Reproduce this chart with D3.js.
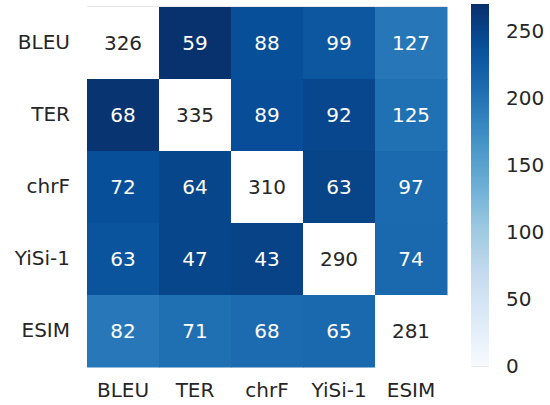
<!DOCTYPE html>
<html><head><meta charset="utf-8">
<script src="https://cdn.jsdelivr.net/npm/d3@7"></script>
<style>body{margin:0;background:#fff}svg{display:block}text{font-family:"DejaVu Sans",sans-serif}</style>
</head><body><svg id="c" width="550" height="405"></svg>
<script>
const metrics = ["BLEU", "TER", "chrF", "YiSi-1", "ESIM"];
// annotated numbers
const annotations = [
  [326, 59, 88, 99, 127],
  [68, 335, 89, 92, 125],
  [72, 64, 310, 63, 97],
  [63, 47, 43, 290, 74],
  [82, 71, 68, 65, 281]
];
// shading values estimated from the colours (diagonal left blank/white)
const shade = [
  [null, 268, 238, 230, 196],
  [266, null, 240, 246, 204],
  [238, 248, null, 250, 210],
  [233, 248, 251, null, 212],
  [195, 205, 209, 212, null]
];
const colorTicks = [0, 50, 100, 150, 200, 250];
const vmin = 0, vmax = 270;

const blues = ["#f7fbff","#deebf7","#c6dbef","#9ecae1","#6baed6","#4292c6","#2171b5","#08519c","#08306b"];
const color = d3.scaleLinear()
  .domain(blues.map((_, i) => vmin + (vmax - vmin) * i / (blues.length - 1)))
  .range(blues).clamp(true);

const svg = d3.select("#c");
const mLeft = 87, mTop = 7, size = 360;
const x = d3.scaleBand().domain(metrics).range([mLeft, mLeft + size]);
const y = d3.scaleBand().domain(metrics).range([mTop, mTop + size]);

const cells = [];
metrics.forEach((r, i) => metrics.forEach((c, j) => cells.push({r, c, v: annotations[i][j], s: shade[i][j]})));

svg.append("line").attr("x1", mLeft).attr("x2", mLeft + size).attr("y1", mTop - 0.5).attr("y2", mTop - 0.5)
  .attr("stroke", "#e8e8e8").attr("stroke-width", 1);

svg.append("g").selectAll("rect").data(cells).join("rect")
  .attr("x", d => x(d.c)).attr("y", d => y(d.r))
  .attr("width", x.bandwidth() + 0.5).attr("height", y.bandwidth() + 0.5)
  .attr("fill", d => d.s == null ? "#ffffff" : color(d.s));

svg.append("g").selectAll("text").data(cells).join("text")
  .attr("x", d => x(d.c) + x.bandwidth() / 2).attr("y", d => y(d.r) + y.bandwidth() / 2)
  .attr("text-anchor", "middle").attr("dominant-baseline", "central")
  .attr("font-size", 20)
  .attr("fill", d => d.s == null ? "#262626" : "#ffffff")
  .text(d => d.v);

// axes
const yAxis = svg.append("g").attr("transform", `translate(${mLeft},0)`)
  .call(d3.axisLeft(y).tickSize(0).tickPadding(17));
const xAxis = svg.append("g").attr("transform", `translate(0,${mTop + size})`)
  .call(d3.axisBottom(x).tickSize(0).tickPadding(16));
[yAxis, xAxis].forEach(a => {
  a.select(".domain").remove();
  a.selectAll("text").attr("font-size", 20).attr("fill", "#262626").attr("font-family", "DejaVu Sans");
});

// colorbar
const cbX = 471, cbW = 18, cbTop = 4, cbBottom = 366;
const cy = d3.scaleLinear().domain([vmin, vmax]).range([cbBottom, cbTop]);
const defs = svg.append("defs");
const grad = defs.append("linearGradient").attr("id", "cbg").attr("x1", 0).attr("x2", 0).attr("y1", 1).attr("y2", 0);
d3.range(0, 1.0001, 0.02).forEach(t => grad.append("stop").attr("offset", t).attr("stop-color", color(vmin + t * (vmax - vmin))));
svg.append("rect").attr("x", cbX).attr("y", cbTop).attr("width", cbW).attr("height", cbBottom - cbTop).attr("fill", "url(#cbg)");
svg.append("line").attr("x1", cbX).attr("x2", cbX + cbW).attr("y1", cbBottom + 0.5).attr("y2", cbBottom + 0.5).attr("stroke", "#e6e6f0");
const cAxis = svg.append("g").attr("transform", `translate(${cbX + cbW},0)`)
  .call(d3.axisRight(cy).tickValues(colorTicks).tickSize(0).tickPadding(17));
cAxis.select(".domain").remove();
cAxis.selectAll("text").attr("font-size", 20).attr("fill", "#262626").attr("font-family", "DejaVu Sans");
</script></body></html>
